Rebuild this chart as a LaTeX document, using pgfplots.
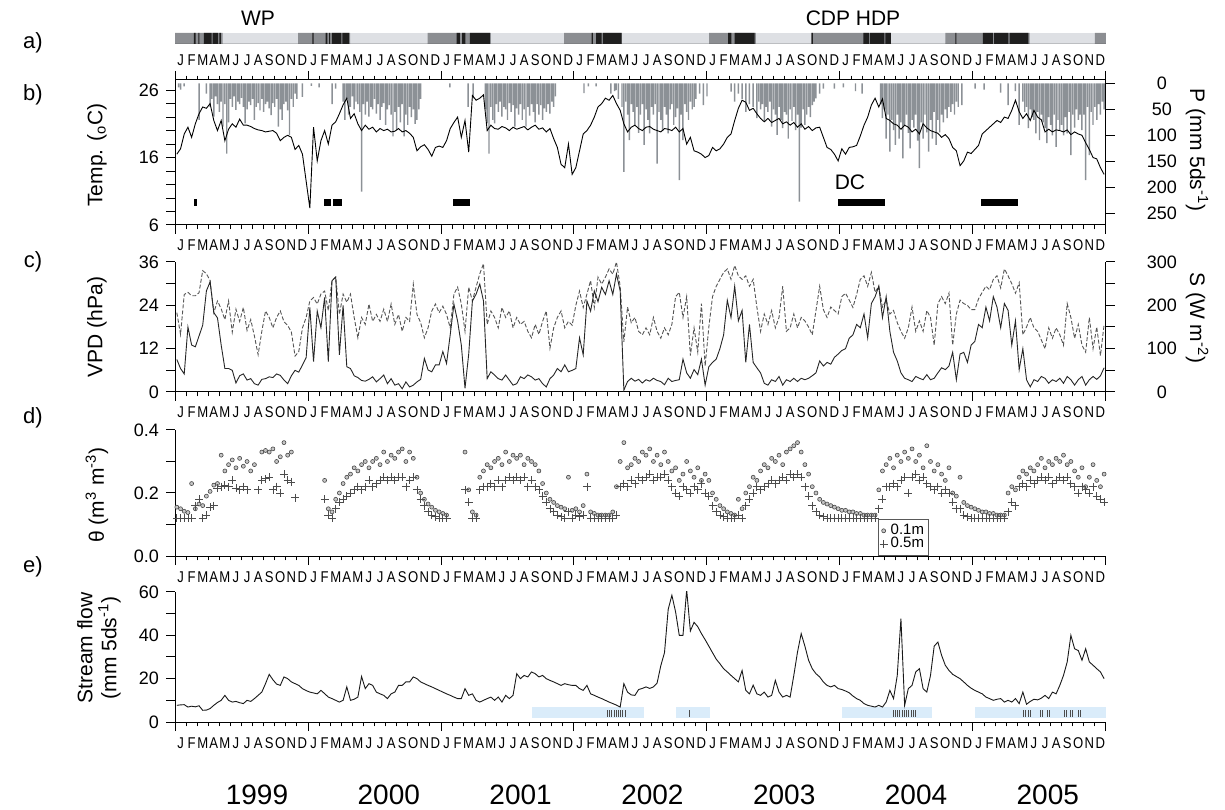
\documentclass[border=0pt]{standalone}
\usepackage{fontspec}
\setmainfont{Liberation Sans}
\newfontfamily\narrowfont[FakeStretch=0.84]{Liberation Sans}
\usepackage{pgfplots}
\usepackage{pgfplotstable}
\pgfplotsset{compat=1.18}
\definecolor{stripL}{RGB}{222,224,228}
\definecolor{stripD}{RGB}{140,142,146}
\definecolor{pgray}{RGB}{140,145,150}
\definecolor{sblue}{RGB}{218,236,250}
\definecolor{sline}{RGB}{85,85,85}
\newcommand\tickfont{\fontsize{9}{10}\selectfont}
\newcommand\monfont{\narrowfont\fontsize{7.8}{8}\selectfont}
\newcommand\labfont{\fontsize{10.5}{12}\selectfont}

\pgfplotsset{
  base/.style={scale only axis, width=465.5pt, xmin=0, xmax=84, tick align=outside,
    major tick length=4.5pt, minor tick length=2.2pt,
    axis line style={-, line width=0.5pt}, tick style={line width=0.5pt, black},
    tick label style={font=\tickfont}, /pgf/number format/assume math mode=true},
  xmonths/.style={xtick={0,12,...,84}, minor xtick={0,1,...,84}, xticklabel=\empty},
  rightlabels/.style={yticklabel style={anchor=center, xshift=23.5pt}},
  letters/.style={base, height=10pt, ymin=0, ymax=1, axis line style={draw=none},
    ytick=\empty, xtick={0.5,1.5,...,83.5}, major tick length=0pt,
    xticklabel style={font=\monfont, inner sep=0pt, anchor=north, text height=5.6pt, text depth=0pt, yshift=-#1},
    xticklabels={J,F,M,A,M,J,J,A,S,O,N,D,J,F,M,A,M,J,J,A,S,O,N,D,J,F,M,A,M,J,J,A,S,O,N,D,J,F,M,A,M,J,J,A,S,O,N,D,J,F,M,A,M,J,J,A,S,O,N,D,J,F,M,A,M,J,J,A,S,O,N,D,J,F,M,A,M,J,J,A,S,O,N,D}},
}

% Temperature (degC), 10-day steps from Jan 1999
\pgfplotstableread[row sep=\\]{
16.5\\17.3\\19.5\\20.5\\19.0\\21.0\\22.5\\23.5\\23.3\\24.0\\21.5\\20.0\\
21.5\\18.5\\20.2\\21.0\\20.5\\21.7\\20.8\\20.8\\20.6\\20.3\\20.1\\20.0\\
19.8\\19.9\\20.0\\19.6\\18.5\\19.0\\19.3\\19.0\\17.2\\17.8\\16.5\\12.5\\
8.5\\20.5\\15.5\\18.5\\20.0\\18.0\\20.8\\21.3\\22.5\\23.8\\24.8\\21.8\\
22.5\\21.0\\20.0\\20.8\\20.2\\20.5\\19.8\\20.3\\20.0\\20.2\\19.8\\19.9\\
20.3\\19.8\\20.0\\19.6\\19.0\\17.0\\17.6\\17.9\\17.2\\16.2\\17.5\\17.7\\
17.5\\18.5\\20.3\\21.2\\22.0\\19.0\\21.5\\16.8\\25.2\\24.5\\24.8\\25.3\\
20.0\\20.8\\20.3\\20.2\\20.6\\20.4\\20.0\\20.5\\20.2\\20.4\\20.6\\20.1\\
20.5\\20.8\\20.2\\20.4\\19.8\\20.3\\18.8\\17.5\\15.0\\14.5\\18.0\\13.5\\
14.5\\17.0\\19.5\\20.0\\20.8\\22.0\\23.5\\24.0\\24.8\\24.5\\25.2\\24.0\\
23.0\\21.0\\19.8\\20.5\\20.8\\20.3\\20.0\\20.5\\20.6\\20.2\\20.0\\19.8\\
20.3\\20.2\\20.0\\20.5\\19.8\\20.3\\18.0\\19.0\\17.0\\16.8\\16.5\\16.0\\
16.3\\17.5\\17.0\\17.3\\18.0\\19.0\\19.5\\21.5\\23.3\\24.5\\24.2\\23.0\\
23.3\\22.5\\21.8\\21.3\\21.8\\21.2\\21.5\\21.8\\21.0\\21.3\\20.8\\21.2\\
20.5\\21.0\\20.2\\20.6\\20.0\\20.4\\20.5\\19.0\\17.5\\17.2\\16.5\\15.5\\
17.3\\16.5\\17.5\\17.6\\17.8\\19.2\\20.8\\22.0\\23.8\\24.8\\23.5\\24.7\\
21.8\\21.5\\21.0\\20.8\\20.2\\20.8\\20.5\\19.8\\20.2\\19.5\\21.0\\20.4\\
20.0\\19.8\\19.6\\19.0\\19.4\\18.8\\17.5\\17.0\\14.8\\15.5\\16.8\\16.6\\
17.2\\17.8\\19.5\\20.0\\20.5\\21.0\\21.5\\21.2\\22.0\\21.8\\23.0\\24.5\\
22.8\\21.8\\22.5\\21.5\\23.0\\22.0\\21.6\\19.8\\20.2\\19.8\\20.1\\20.0\\
19.8\\20.1\\19.4\\19.8\\19.5\\19.3\\18.2\\17.2\\16.0\\15.8\\14.5\\13.5\\
}\Ttab

% VPD (hPa)
\pgfplotstableread[row sep=\\]{
9.0\\6.5\\5.0\\18.0\\13.0\\12.5\\15.5\\18.5\\28.0\\30.5\\22.0\\20.5\\
13.0\\6.5\\6.5\\6.0\\2.5\\4.5\\5.0\\3.3\\3.7\\2.3\\1.9\\3.5\\
3.7\\4.2\\4.0\\5.0\\4.6\\3.3\\2.3\\4.5\\6.0\\5.5\\7.5\\9.5\\
23.4\\8.4\\22.4\\17.8\\26.2\\8.4\\30.8\\31.8\\10.3\\24.0\\7.0\\6.5\\
4.5\\4.0\\3.2\\3.0\\3.5\\4.2\\2.8\\3.7\\4.7\\2.3\\3.7\\1.9\\
2.3\\0.9\\2.8\\1.4\\1.9\\2.8\\3.5\\9.3\\6.1\\5.6\\7.5\\7.5\\
11.2\\7.9\\15.9\\24.3\\19.6\\13.0\\1.0\\10.5\\25.2\\27.1\\29.9\\25.2\\
3.7\\5.6\\4.7\\3.7\\3.3\\4.7\\3.3\\1.9\\2.3\\4.2\\3.7\\4.7\\
4.2\\3.3\\3.7\\2.3\\1.4\\3.7\\4.7\\6.5\\5.6\\7.5\\5.6\\6.0\\
6.5\\15.0\\10.3\\25.2\\22.4\\28.0\\25.0\\29.0\\27.0\\30.8\\27.0\\32.7\\
28.0\\0.5\\2.9\\3.8\\3.0\\3.5\\2.5\\3.4\\3.0\\3.8\\3.2\\2.9\\
2.0\\3.8\\2.9\\3.2\\3.4\\9.1\\5.3\\3.8\\6.2\\4.8\\9.1\\1.9\\
7.0\\8.2\\9.1\\12.0\\15.8\\25.4\\20.6\\29.3\\19.7\\22.6\\8.2\\18.7\\
8.2\\6.7\\5.3\\2.4\\1.9\\3.4\\2.9\\4.3\\1.9\\3.4\\2.9\\3.8\\
2.9\\3.8\\3.4\\3.8\\4.5\\5.3\\8.6\\7.2\\8.2\\7.7\\9.6\\10.5\\
11.5\\12.0\\14.9\\15.8\\18.7\\17.8\\21.6\\15.0\\24.5\\26.4\\29.3\\20.6\\
26.4\\16.8\\11.0\\8.6\\5.3\\3.8\\3.4\\2.9\\4.3\\3.8\\3.4\\4.8\\
3.4\\3.8\\5.3\\6.7\\6.2\\7.2\\11.0\\3.4\\10.5\\11.0\\8.2\\13.0\\
14.0\\18.7\\17.8\\23.5\\19.7\\26.4\\23.5\\17.8\\24.5\\22.6\\13.0\\19.7\\
6.2\\12.0\\3.4\\1.4\\3.4\\2.9\\4.3\\3.8\\2.4\\3.4\\2.9\\3.8\\
2.4\\4.3\\3.4\\1.9\\3.4\\4.3\\1.9\\3.4\\4.3\\3.5\\4.5\\6.7\\
}\Vtab

% S (W m-2)
\pgfplotstableread[row sep=\\]{
183\\133\\225\\230\\222\\222\\229\\280\\273\\257\\183\\210\\
192\\167\\210\\138\\191\\163\\195\\142\\167\\129\\86\\140\\
187\\172\\148\\172\\187\\162\\154\\138\\83\\93\\148\\172\\
210\\218\\203\\226\\233\\188\\257\\265\\179\\226\\207\\226\\
172\\125\\172\\156\\203\\163\\179\\163\\191\\163\\203\\156\\
179\\140\\172\\163\\249\\179\\160\\125\\148\\187\\203\\183\\
198\\179\\148\\226\\242\\203\\140\\242\\210\\242\\273\\296\\
156\\187\\172\\148\\195\\172\\187\\148\\172\\156\\163\\140\\
125\\156\\133\\163\\187\\101\\148\\172\\187\\148\\163\\154\\
200\\233\\195\\226\\257\\195\\265\\249\\265\\284\\272\\300\\
244\\116\\196\\160\\172\\140\\132\\148\\132\\172\\140\\124\\
148\\132\\156\\220\\230\\172\\220\\84\\148\\92\\204\\60\\
150\\220\\244\\260\\276\\284\\260\\292\\268\\260\\268\\244\\
260\\196\\140\\180\\156\\188\\148\\172\\244\\140\\148\\180\\
148\\172\\164\\150\\132\\188\\244\\190\\172\\196\\188\\180\\
220\\228\\212\\195\\225\\260\\268\\244\\276\\230\\244\\196\\
212\\180\\188\\160\\140\\124\\148\\196\\140\\164\\140\\188\\
172\\108\\204\\220\\204\\228\\108\\180\\212\\204\\200\\190\\
190\\215\\230\\244\\236\\260\\268\\240\\284\\268\\250\\228\\
252\\132\\150\\172\\148\\140\\120\\100\\148\\124\\148\\132\\
108\\204\\172\\124\\156\\108\\92\\172\\100\\150\\84\\156\\
}\Stab

% Stream flow (mm 5ds-1)
\pgfplotstableread[row sep=\\]{
7.7\\7.9\\8.0\\6.9\\7.3\\7.0\\7.5\\5.4\\5.5\\6.2\\7.7\\9.0\\
10.0\\12.3\\10.0\\9.2\\9.5\\8.9\\8.5\\10.0\\9.5\\10.8\\12.3\\13.8\\
17.7\\22.0\\19.5\\17.5\\16.9\\20.8\\20.0\\18.5\\17.7\\16.9\\15.4\\14.5\\
13.8\\13.4\\13.0\\14.6\\13.1\\11.5\\10.8\\10.0\\9.2\\10.0\\16.2\\10.0\\
10.5\\11.5\\21.0\\15.4\\17.7\\16.9\\13.8\\13.0\\12.3\\10.8\\13.0\\13.8\\
16.9\\16.9\\18.5\\18.5\\20.8\\20.0\\18.5\\17.7\\16.9\\16.2\\15.4\\14.6\\
13.8\\13.0\\12.3\\11.5\\10.8\\10.8\\15.4\\12.3\\13.0\\10.0\\9.2\\10.0\\
10.8\\11.5\\10.0\\11.5\\9.2\\12.3\\10.8\\12.3\\22.3\\20.0\\21.5\\20.8\\
23.1\\22.3\\20.8\\21.5\\20.0\\19.2\\18.5\\17.7\\16.9\\17.7\\17.2\\16.9\\
16.9\\15.4\\14.6\\16.9\\13.0\\12.3\\11.5\\10.8\\10.0\\9.2\\8.5\\7.8\\
6.9\\17.7\\13.8\\12.5\\12.3\\15.0\\15.5\\16.2\\15.5\\16.2\\18.0\\26.0\\
32.0\\52.0\\58.5\\50.8\\40.0\\40.0\\61.0\\42.0\\46.0\\44.0\\40.8\\38.0\\
35.0\\32.0\\29.0\\26.9\\24.6\\23.1\\21.5\\20.0\\18.5\\23.8\\14.6\\13.0\\
17.0\\13.0\\12.3\\13.8\\11.5\\12.3\\19.2\\13.8\\11.5\\12.3\\11.5\\21.5\\
32.3\\40.8\\35.0\\28.5\\24.6\\22.3\\20.8\\18.5\\16.9\\16.2\\16.9\\15.4\\
15.0\\14.3\\13.5\\12.0\\10.8\\10.0\\8.5\\7.7\\7.3\\6.9\\7.7\\6.9\\
9.2\\14.6\\10.8\\21.5\\47.7\\7.7\\15.4\\16.9\\23.1\\24.6\\15.4\\13.8\\
21.5\\35.0\\36.9\\30.8\\26.2\\23.8\\22.0\\21.0\\20.0\\18.5\\16.9\\15.6\\
14.6\\13.8\\13.0\\11.5\\10.8\\10.0\\10.5\\10.8\\9.2\\10.0\\9.2\\10.8\\
8.5\\13.8\\8.2\\9.5\\10.5\\10.2\\11.0\\12.3\\10.8\\13.8\\13.0\\16.9\\
21.5\\27.7\\40.0\\33.8\\33.0\\28.5\\33.8\\27.7\\26.2\\24.6\\23.1\\20.0\\
}\Qtab

% soil water content 0.1 m
\pgfplotstableread[row sep=\\]{
0.155\\0.150\\0.142\\0.138\\0.230\\0.150\\0.165\\0.160\\0.190\\0.205\\0.225\\0.230\\
0.320\\0.270\\0.290\\0.305\\0.280\\0.310\\0.285\\0.300\\0.270\\0.290\\nan\\0.330\\
0.335\\0.330\\0.340\\0.300\\0.315\\0.360\\0.320\\0.330\\nan\\nan\\nan\\nan\\
nan\\nan\\nan\\nan\\0.240\\0.150\\0.140\\0.180\\0.200\\0.230\\0.250\\0.260\\
0.280\\0.270\\0.290\\0.300\\0.280\\0.300\\0.310\\0.290\\0.330\\0.300\\0.320\\0.310\\
0.330\\0.340\\0.300\\0.330\\0.310\\0.250\\0.200\\0.180\\0.165\\0.155\\0.145\\0.140\\
0.135\\0.130\\nan\\nan\\nan\\nan\\0.330\\0.210\\0.140\\0.130\\0.250\\0.270\\
0.290\\0.280\\0.300\\0.310\\0.290\\0.330\\0.300\\0.320\\0.310\\0.320\\0.290\\0.310\\
0.300\\0.290\\0.270\\0.230\\0.200\\0.180\\0.170\\0.160\\0.155\\0.150\\0.250\\0.145\\
0.150\\0.140\\0.160\\0.260\\0.140\\0.135\\0.130\\0.130\\0.130\\0.130\\0.140\\0.220\\
0.300\\0.360\\0.280\\0.290\\0.310\\0.300\\0.330\\0.320\\0.340\\0.300\\0.320\\0.290\\
0.330\\0.300\\0.270\\0.280\\0.240\\0.260\\0.300\\0.270\\0.250\\0.280\\0.240\\0.260\\
0.240\\0.200\\0.180\\0.160\\0.150\\0.140\\0.135\\0.130\\0.180\\0.150\\0.200\\0.220\\
0.250\\0.240\\0.270\\0.290\\0.280\\0.310\\0.300\\0.320\\0.290\\0.330\\0.340\\0.350\\
0.360\\0.330\\0.290\\0.260\\0.220\\0.200\\0.180\\0.170\\0.165\\0.160\\0.155\\0.150\\
0.145\\0.145\\0.140\\0.140\\0.135\\0.135\\0.130\\0.130\\0.130\\0.130\\0.210\\0.270\\
0.290\\0.310\\0.280\\0.320\\0.300\\0.330\\0.310\\0.340\\0.300\\0.320\\0.280\\0.350\\
0.300\\0.270\\0.290\\0.260\\0.240\\0.280\\0.200\\0.190\\0.250\\0.170\\0.160\\0.155\\
0.150\\0.145\\0.140\\0.140\\0.135\\0.135\\0.130\\0.130\\0.130\\0.200\\0.220\\0.210\\
0.250\\0.270\\0.260\\0.280\\0.270\\0.290\\0.310\\0.280\\0.300\\0.290\\0.310\\0.300\\
0.320\\0.290\\0.300\\0.270\\0.250\\0.280\\0.220\\0.250\\0.290\\0.240\\0.220\\0.260\\
}\Aone

% soil water content 0.5 m
\pgfplotstableread[row sep=\\]{
0.120\\0.120\\0.120\\0.120\\0.120\\0.160\\0.180\\0.120\\0.130\\0.155\\0.160\\0.215\\
0.220\\0.225\\0.220\\0.240\\0.215\\0.210\\0.220\\0.210\\nan\\nan\\0.210\\0.240\\
0.245\\0.250\\0.210\\0.220\\0.200\\0.260\\0.240\\0.235\\0.185\\nan\\nan\\nan\\
nan\\nan\\nan\\nan\\0.180\\0.130\\0.120\\0.150\\0.170\\0.180\\0.190\\0.200\\
0.210\\0.220\\0.210\\0.220\\0.240\\0.220\\0.230\\0.240\\0.250\\0.240\\0.250\\0.240\\
0.250\\0.250\\0.220\\0.240\\0.250\\0.210\\0.180\\0.160\\0.140\\0.130\\0.125\\0.120\\
0.120\\0.120\\nan\\nan\\nan\\nan\\0.210\\0.170\\0.120\\0.120\\0.210\\0.220\\
0.220\\0.230\\0.220\\0.240\\0.220\\0.240\\0.250\\0.240\\0.250\\0.240\\0.250\\0.220\\
0.240\\0.220\\0.210\\0.190\\0.170\\0.150\\0.140\\0.130\\0.125\\0.120\\0.140\\0.120\\
0.130\\0.125\\0.130\\0.220\\0.120\\0.120\\0.120\\0.120\\0.120\\0.120\\0.120\\0.130\\
0.220\\0.230\\0.220\\0.240\\0.230\\0.250\\0.240\\0.250\\0.260\\0.240\\0.250\\0.250\\
0.260\\0.240\\0.220\\0.200\\0.190\\0.220\\0.210\\0.200\\0.220\\0.210\\0.230\\0.200\\
0.190\\0.160\\0.140\\0.130\\0.125\\0.120\\0.120\\0.120\\0.130\\0.120\\0.160\\0.180\\
0.200\\0.220\\0.210\\0.220\\0.230\\0.240\\0.230\\0.240\\0.250\\0.240\\0.260\\0.250\\
0.260\\0.250\\0.220\\0.190\\0.160\\0.140\\0.130\\0.125\\0.120\\0.120\\0.120\\0.120\\
0.120\\0.120\\0.120\\0.120\\0.120\\0.120\\0.120\\0.120\\0.120\\0.120\\0.150\\0.180\\
0.220\\0.220\\0.230\\0.220\\0.240\\0.250\\0.200\\0.250\\0.260\\0.240\\0.250\\0.230\\
0.220\\0.210\\0.220\\0.200\\0.210\\0.200\\0.170\\0.150\\0.150\\0.130\\0.125\\0.120\\
0.120\\0.120\\0.120\\0.120\\0.120\\0.120\\0.120\\0.120\\0.120\\0.140\\0.170\\0.160\\
0.220\\0.230\\0.220\\0.240\\0.230\\0.240\\0.250\\0.240\\0.250\\0.230\\0.240\\0.250\\
0.240\\0.250\\0.230\\0.220\\0.200\\0.220\\0.210\\0.200\\0.220\\0.190\\0.180\\0.170\\
}\Afive

\begin{document}
\begin{tikzpicture}
\useasboundingbox (0,0) rectangle (612.5pt,404.5pt);

% ---------------- a) strip
\begin{axis}[letters=5pt, height=5.5pt, at={(87.5pt,382.5pt)}, anchor=south west]
\addplot[fill=stripL, draw=none] coordinates {(0,0) (84,0) (84,1) (0,1)} -- cycle;
\addplot[fill=stripD, draw=none, const plot mark left] coordinates {(0,1) (4.3,0) (11.1,1) (15.8,0) (22.8,1) (28.5,0) (35.1,1) (40.3,0) (48.2,1) (52.4,0) (57.4,1) (64.6,0) (69.5,1) (77.1,0) (83,1) (84,1)} \closedcycle;
\addplot[fill=black!88, draw=none, const plot mark left] coordinates {(0,0) (1.7,1) (1.85,0) (2.1,1) (2.2,0) (2.6,1) (3.3,0) (3.4,1) (3.9,0) (4.0,1) (4.15,0) (12.4,1) (12.5,0) (13.6,1) (13.75,0) (13.9,1) (14.0,0) (14.15,1) (15.0,0) (15.1,1) (15.7,0) (25.4,1) (25.7,0) (25.9,1) (26.2,0) (26.6,1) (28.4,0) (37.6,1) (37.7,0) (38.0,1) (38.5,0) (38.6,1) (40.3,0) (49.9,1) (50.2,0) (50.5,1) (52.3,0) (57.45,1) (57.55,0) (62.1,1) (62.6,0) (62.7,1) (64.0,0) (64.1,1) (64.6,0) (70.4,1) (70.5,0) (72.9,1) (73.8,0) (73.9,1) (75.2,0) (75.3,1) (77.0,0) (84,0)} \closedcycle;
\end{axis}

% ---------------- b) precipitation (right axis, reversed)
\begin{axis}[base, rightlabels, at={(87.5pt,292pt)}, anchor=south west, height=72.5pt,
  axis x line=none, axis y line*=right, y dir=reverse, ymin=-6.4, ymax=272,
  ytick={0,50,...,250}]
\addplot[ybar, bar width=0.13, fill=pgray, draw=none] coordinates {
(0.33,8) (0.5,12) (0.83,6) (2.17,70) (2.83,20)
(3.17,45) (3.33,30) (3.5,64) (3.67,25) (3.83,40) (4.0,55) (4.17,35) (4.33,83) (4.5,40) (4.67,135) (4.83,75) (5.0,30) (5.17,45) (5.33,25) (5.5,51) (5.67,35) (5.83,40) (6.0,28) (6.17,45) (6.33,77) (6.5,50) (6.67,35) (6.83,42) (7.0,30) (7.17,70) (7.33,45) (7.5,38) (7.67,52) (7.83,30) (8.0,55) (8.17,40) (8.33,35) (8.5,48) (8.67,61) (8.83,38) (9.0,45) (9.17,30) (9.33,83) (9.5,50) (9.67,70) (9.83,40) (10.0,35) (10.17,52) (10.33,99) (10.5,30) (10.67,45) (10.83,20) (11.0,30) (11.5,26)
(12.3,5) (13.0,8) (14.17,40) (14.5,10)
(15.17,35) (15.33,70) (15.5,30) (15.67,60) (15.83,45) (16.0,25) (16.17,50) (16.33,35) (16.5,40) (16.67,55) (16.83,208) (17.0,40) (17.17,60) (17.33,35) (17.5,64) (17.67,45) (17.83,50) (18.0,30) (18.17,58) (18.33,40) (18.5,70) (18.67,45) (18.83,38) (19.0,80) (19.17,50) (19.33,42) (19.5,60) (19.67,102) (19.83,55) (20.0,90) (20.17,45) (20.33,75) (20.5,40) (20.67,102) (20.83,60) (21.0,80) (21.17,45) (21.33,65) (21.5,50) (21.67,78) (21.83,70) (22.0,50) (22.17,30)
(24.8,8) (26.45,45) (26.9,29)
(28.0,50) (28.17,77) (28.33,135) (28.5,45) (28.67,70) (28.83,77) (29.0,40) (29.17,55) (29.33,35) (29.5,64) (29.67,45) (29.83,50) (30.0,70) (30.17,38) (30.33,55) (30.5,42) (30.67,83) (30.83,48) (31.0,60) (31.17,40) (31.33,70) (31.5,50) (31.67,83) (31.83,45) (32.0,62) (32.17,40) (32.33,55) (32.5,75) (32.67,40) (32.83,60) (33.0,42) (33.17,70) (33.33,48) (33.5,55) (33.67,40) (33.83,58) (34.0,35) (34.17,45) (34.33,25)
(36.9,19) (37.3,6) (38.0,6) (39.8,13)
(39.33,20) (39.67,15) (40.0,30) (40.33,45) (40.5,170) (40.67,35) (40.83,60) (41.0,109) (41.17,40) (41.33,55) (41.5,80) (41.67,45) (41.83,95) (42.0,60) (42.17,40) (42.33,118) (42.5,50) (42.67,70) (42.83,96) (43.0,45) (43.17,60) (43.33,40) (43.5,154) (43.67,55) (43.83,70) (44.0,92) (44.17,45) (44.33,60) (44.5,96) (44.67,50) (44.83,40) (45.0,80) (45.17,65) (45.33,48) (45.5,186) (45.67,60) (45.83,109) (46.0,40) (46.17,55) (46.33,70) (46.5,35) (46.67,50) (46.83,45) (47.0,30) (47.33,20) (47.67,42) (48.0,25)
(50.17,16) (50.5,35) (50.83,20) (51.17,30) (51.5,55) (51.83,40) (52.17,45) (52.5,67) (52.67,35) (52.83,50) (53.0,40) (53.17,74) (53.33,45) (53.5,55) (53.67,35) (53.83,83) (54.0,50) (54.17,60) (54.33,99) (54.5,45) (54.67,70) (54.83,86) (55.0,55) (55.17,60) (55.33,106) (55.5,50) (55.67,72) (55.83,45) (56.0,90) (56.17,60) (56.33,227) (56.5,85) (56.67,50) (56.83,80) (57.0,60) (57.17,45) (57.33,65) (57.5,42) (57.67,35) (57.83,29) (58.17,20)
(58.5,10) (59.5,10) (60.3,8) (61.4,15) (62.0,20)
(63.67,40) (63.83,67) (64.0,50) (64.17,106) (64.33,60) (64.5,131) (64.67,70) (64.83,90) (65.0,118) (65.17,60) (65.33,106) (65.5,75) (65.67,144) (65.83,80) (66.0,60) (66.17,95) (66.33,125) (66.5,70) (66.67,85) (66.83,60) (67.0,110) (67.17,163) (67.33,75) (67.5,106) (67.67,60) (67.83,94) (68.0,131) (68.17,70) (68.33,106) (68.5,55) (68.67,118) (68.83,70) (69.0,94) (69.17,60) (69.33,75) (69.5,50) (69.67,67) (69.83,45) (70.0,55) (70.17,40) (70.33,60) (70.5,35) (70.67,45) (71.0,42)
(72.2,10) (73.0,12) (74.5,18) (75.17,42) (75.83,15) (76.17,80) (76.5,35) (76.67,55) (76.83,45) (77.0,86) (77.17,50) (77.33,65) (77.5,70) (77.67,96) (77.83,55) (78.0,109) (78.17,60) (78.33,75) (78.5,86) (78.67,115) (78.83,65) (79.0,80) (79.17,100) (79.33,60) (79.5,122) (79.67,70) (79.83,90) (80.0,80) (80.17,100) (80.33,65) (80.5,96) (80.67,55) (80.83,138) (81.0,60) (81.17,85) (81.33,50) (81.5,70) (81.67,60) (81.83,90) (82.0,60) (82.17,186) (82.33,45) (82.5,138) (82.67,55) (82.83,80) (83.0,45) (83.17,70) (83.33,40) (83.5,60) (83.67,35) (83.83,50)
};
\end{axis}

% ---------------- b) temperature
\begin{axis}[base, xmonths, at={(87.5pt,292pt)}, anchor=south west, height=72.5pt,
  axis x line=box, axis y line*=left, ymin=6, ymax=27.5,
  ytick={6,8,...,26}, yticklabels={6,,,,,16,,,,,26}]
\addplot[black, line width=0.45pt] table[x expr=\lineno/3+1/6, y index=0] {\Ttab};
\addplot[fill=black, draw=none] coordinates {(1.7,8.8) (2.0,8.8) (2.0,9.9) (1.7,9.9)} -- cycle;
\addplot[fill=black, draw=none] coordinates {(13.4,8.8) (14.05,8.8) (14.05,9.9) (13.4,9.9)} -- cycle;
\addplot[fill=black, draw=none] coordinates {(14.3,8.8) (15.05,8.8) (15.05,9.9) (14.3,9.9)} -- cycle;
\addplot[fill=black, draw=none] coordinates {(25.1,8.8) (26.6,8.8) (26.6,9.9) (25.1,9.9)} -- cycle;
\addplot[fill=black, draw=none] coordinates {(59.8,8.8) (64.1,8.8) (64.1,9.9) (59.8,9.9)} -- cycle;
\addplot[fill=black, draw=none] coordinates {(72.7,8.8) (76.1,8.8) (76.1,9.9) (72.7,9.9)} -- cycle;
\node[font=\labfont] at (axis cs:60.9,12.3) {DC};
\end{axis}
\begin{axis}[letters=7pt, at={(87.5pt,292pt)}, anchor=south west]\end{axis}

% ---------------- c) S (right axis) and VPD
\begin{axis}[base, rightlabels, at={(87.5pt,208.5pt)}, anchor=south west, height=65pt,
  axis x line=none, axis y line*=right, ymin=0, ymax=300,
  ytick={0,50,...,300}, yticklabels={0,,100,,200,,300}]
\addplot[sline, line width=0.45pt, dash pattern=on 2pt off 1pt] table[x expr=\lineno/3+1/6, y index=0] {\Stab};
\end{axis}
\begin{axis}[base, xmonths, at={(87.5pt,208.5pt)}, anchor=south west, height=65pt,
  axis x line*=bottom, axis y line*=left, ymin=0, ymax=36,
  ytick={0,6,...,36}, yticklabels={0,,12,,24,,36}]
\addplot[black!85, line width=0.45pt] table[x expr=\lineno/3+1/6, y index=0] {\Vtab};
\end{axis}
\begin{axis}[letters=7pt, at={(87.5pt,208.5pt)}, anchor=south west]\end{axis}

% ---------------- d) soil water
\begin{axis}[base, xmonths, at={(87.5pt,126.5pt)}, anchor=south west, height=63pt,
  axis x line*=bottom, axis y line*=left, ymin=0, ymax=0.4,
  ytick={0,0.1,0.2,0.3,0.4}, yticklabels={0.0,,0.2,,0.4},
  legend cell align=left,
  legend style={at={(axis cs:63.4,0.0)}, anchor=south west, draw=gray!70!black, line width=0.4pt,
    font=\fontsize{7.5}{8}\selectfont, inner sep=0.8pt, row sep=-3pt, nodes={inner sep=1.5pt}}]
\addplot[only marks, mark=*, mark size=1.0pt, mark options={draw=gray!55!black, fill=gray!45, line width=0.3pt}] table[x expr=\lineno/3+1/6, y index=0] {\Aone};
\addlegendentry{0.1m}
\addplot[only marks, mark=+, mark size=2.0pt, mark options={draw=black!70, line width=0.4pt}] table[x expr=\lineno/3+1/6, y index=0] {\Afive};
\addlegendentry{0.5m}
\end{axis}
\begin{axis}[letters=7.5pt, at={(87.5pt,126.5pt)}, anchor=south west]\end{axis}

% ---------------- e) stream flow
\begin{axis}[base, xmonths, at={(87.5pt,43.5pt)}, anchor=south west, height=65pt,
  axis x line*=bottom, axis y line*=left, ymin=0, ymax=60,
  ytick={0,10,...,60}, yticklabels={0,,20,,40,,60}]
\addplot[fill=sblue, draw=none] coordinates {(32.2,1.8) (42.3,1.8) (42.3,6.9) (32.2,6.9)} -- cycle;
\addplot[fill=sblue, draw=none] coordinates {(45.2,1.8) (48.3,1.8) (48.3,6.9) (45.2,6.9)} -- cycle;
\addplot[fill=sblue, draw=none] coordinates {(60.2,1.8) (68.3,1.8) (68.3,6.9) (60.2,6.9)} -- cycle;
\addplot[fill=sblue, draw=none] coordinates {(72.2,1.8) (84,1.8) (84,6.9) (72.2,6.9)} -- cycle;
\addplot[gray!60!black, line width=0.35pt, unbounded coords=jump] coordinates {
(39.0,2.5) (39.0,5.6) (39.0,nan) (39.2,2.5) (39.2,5.6) (39.2,nan) (39.4,2.5) (39.4,5.6) (39.4,nan) (39.6,2.5) (39.6,5.6) (39.6,nan) (39.8,2.5) (39.8,5.6) (39.8,nan) (40.0,2.5) (40.0,5.6) (40.0,nan) (40.2,2.5) (40.2,5.6) (40.2,nan) (40.4,2.5) (40.4,5.6) (40.4,nan) (40.6,2.5) (40.6,5.6) (40.6,nan)
(46.4,2.5) (46.4,5.6) (46.4,nan)
(64.8,2.5) (64.8,5.6) (64.8,nan) (65.0,2.5) (65.0,5.6) (65.0,nan) (65.2,2.5) (65.2,5.6) (65.2,nan) (65.4,2.5) (65.4,5.6) (65.4,nan) (65.6,2.5) (65.6,5.6) (65.6,nan) (65.8,2.5) (65.8,5.6) (65.8,nan) (66.0,2.5) (66.0,5.6) (66.0,nan) (66.2,2.5) (66.2,5.6) (66.2,nan) (66.4,2.5) (66.4,5.6) (66.4,nan) (66.6,2.5) (66.6,5.6) (66.6,nan) (66.8,2.5) (66.8,5.6) (66.8,nan)
(76.5,2.5) (76.5,5.6) (76.5,nan) (76.7,2.5) (76.7,5.6) (76.7,nan) (77.0,2.5) (77.0,5.6) (77.0,nan) (77.2,2.5) (77.2,5.6) (77.2,nan) (78.1,2.5) (78.1,5.6) (78.1,nan) (78.3,2.5) (78.3,5.6) (78.3,nan) (78.7,2.5) (78.7,5.6) (78.7,nan) (78.9,2.5) (78.9,5.6) (78.9,nan) (80.2,2.5) (80.2,5.6) (80.2,nan) (80.4,2.5) (80.4,5.6) (80.4,nan) (80.8,2.5) (80.8,5.6) (80.8,nan) (81.0,2.5) (81.0,5.6) (81.0,nan) (81.5,2.5) (81.5,5.6) (81.5,nan) (81.7,2.5) (81.7,5.6)
};
\addplot[black!90, line width=0.45pt] table[x expr=\lineno/3+1/6, y index=0] {\Qtab};
\end{axis}
\begin{axis}[letters=7.5pt, at={(87.5pt,43.5pt)}, anchor=south west]\end{axis}

% ---------------- free text
\node[font=\fontsize{11}{12}\selectfont] at (16.5pt,383pt) {a)};
\node[font=\fontsize{11}{12}\selectfont] at (16.5pt,357pt) {b)};
\node[font=\fontsize{11}{12}\selectfont] at (16.5pt,273.5pt) {c)};
\node[font=\fontsize{11}{12}\selectfont] at (16.5pt,195.5pt) {d)};
\node[font=\fontsize{11}{12}\selectfont] at (16.5pt,121pt) {e)};
\node[font=\labfont] at (129pt,395.5pt) {WP};
\node[font=\labfont] at (426.5pt,395.5pt) {CDP HDP};
\node[font=\labfont, rotate=90] at (48.5pt,327pt) {Temp. (\textsubscript{o}C)};
\node[font=\labfont, rotate=90] at (48.5pt,241pt) {VPD (hPa)};
\node[font=\labfont, rotate=90] at (48.5pt,157pt) {θ (m\textsuperscript{3} m\textsuperscript{-3})};
\node[font=\labfont, rotate=90, align=center] at (49.5pt,80.5pt) {Stream flow\\(mm 5ds\textsuperscript{-1})};
\node[font=\labfont, rotate=-90] at (598.5pt,329.5pt) {P (mm 5ds\textsuperscript{-1})};
\node[font=\labfont, rotate=-90] at (598.5pt,245.5pt) {S (W m\textsuperscript{-2})};
\foreach \yr/\xx in {1999/128.5,2000/194.4,2001/260.3,2002/326.2,2003/392.1,2004/458,2005/523.9}
  \node[font=\fontsize{14}{16}\selectfont] at (\xx pt,7pt) {\yr};
\end{tikzpicture}
\end{document}
